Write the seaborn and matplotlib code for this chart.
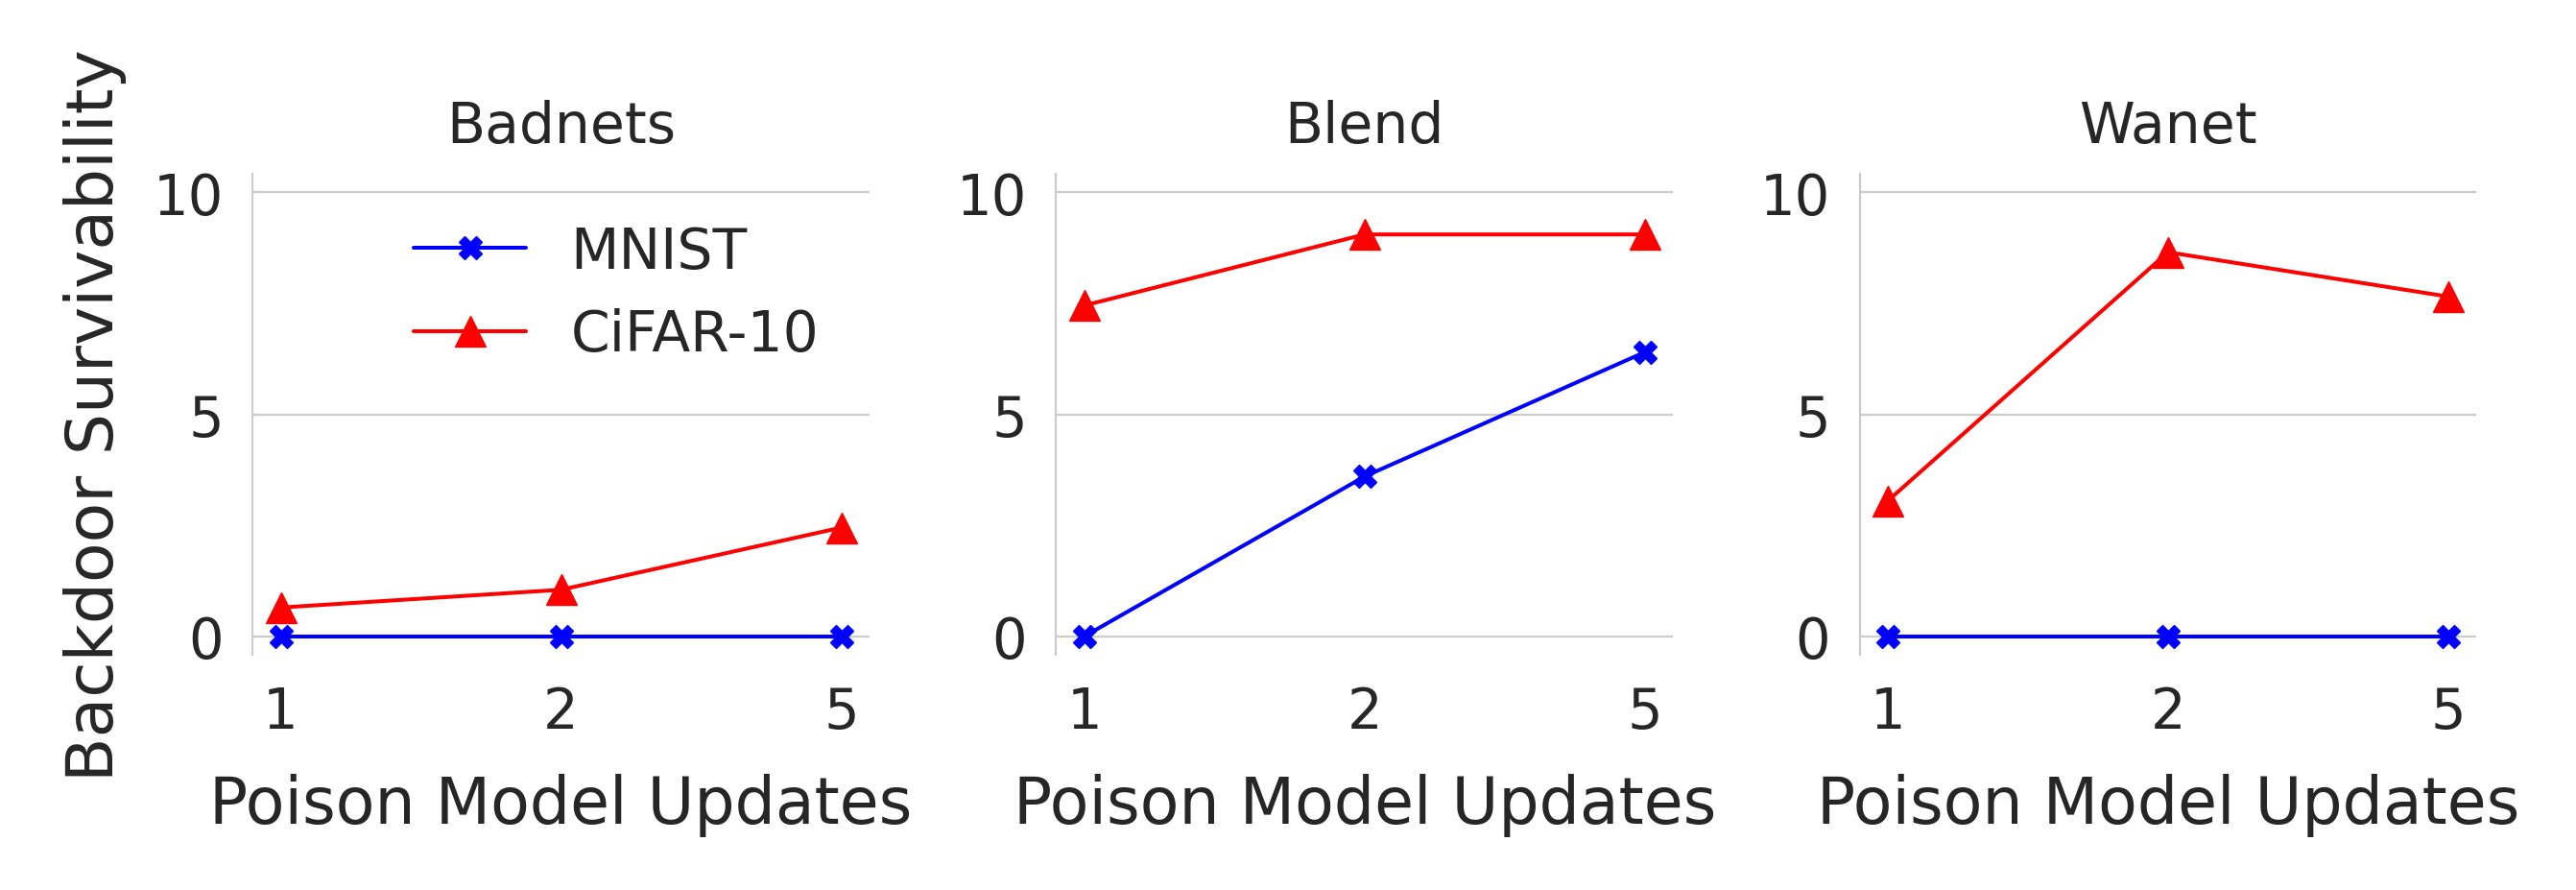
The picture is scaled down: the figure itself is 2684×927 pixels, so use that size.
import seaborn as sns
import matplotlib.pyplot as plt

# x categories (number of poisoned model updates)
updates = ["1", "2", "5"]
attacks = ["Badnets", "Blend", "Wanet"]

mnist_badnets = [0.0, 0.0, 0.0]
cifar_badnets = [0.65, 1.05, 2.45]
mnist_blend = [0.0, 3.6, 6.4]
cifar_blend = [7.45, 9.05, 9.05]
mnist_wanet = [0.0, 0.0, 0.0]
cifar_wanet = [3.05, 8.65, 7.65]

sns.set_theme(style="whitegrid")
plt.rcParams["font.family"] = ["DejaVu Sans"]
plt.rcParams["grid.linewidth"] = 1.6
plt.rcParams["axes.linewidth"] = 1.6

fig, axes = plt.subplots(1, 3, figsize=(26.84, 9.28), dpi=100)
fig.subplots_adjust(left=0.0981, right=0.9613, bottom=0.2637, top=0.8036, wspace=0.303)

mnist = [mnist_badnets, mnist_blend, mnist_wanet]
cifar = [cifar_badnets, cifar_blend, cifar_wanet]

for i, (ax, name, m, c) in enumerate(zip(axes, attacks, mnist, cifar)):
    sns.lineplot(x=updates, y=m, color="blue", marker="X", markersize=17,
                 markeredgewidth=1, markeredgecolor="blue", linewidth=2.9,
                 label="MNIST", ax=ax)
    sns.lineplot(x=updates, y=c, color="red", marker="^", markersize=23.5,
                 markeredgewidth=1, markeredgecolor="red", linewidth=2.9,
                 label="CiFAR-10", ax=ax)
    ax.set_title(name, fontsize=42, pad=24)
    ax.set_xlabel("Poison Model Updates", fontsize=48, labelpad=25)
    ax.set_ylabel("")
    ax.set_ylim(-0.42, 10.41)
    ax.set_yticks([0, 5, 10])
    ax.tick_params(labelsize=41.5, pad=22, length=0)
    ax.xaxis.grid(False)
    sns.despine(ax=ax, bottom=True)
    if i == 0:
        ax.set_ylabel("Backdoor Survivability", fontsize=49, labelpad=20)
        ax.legend(frameon=False, fontsize=42, loc="upper right")
    else:
        ax.get_legend().remove()

fig.savefig("out.png", dpi=100)
